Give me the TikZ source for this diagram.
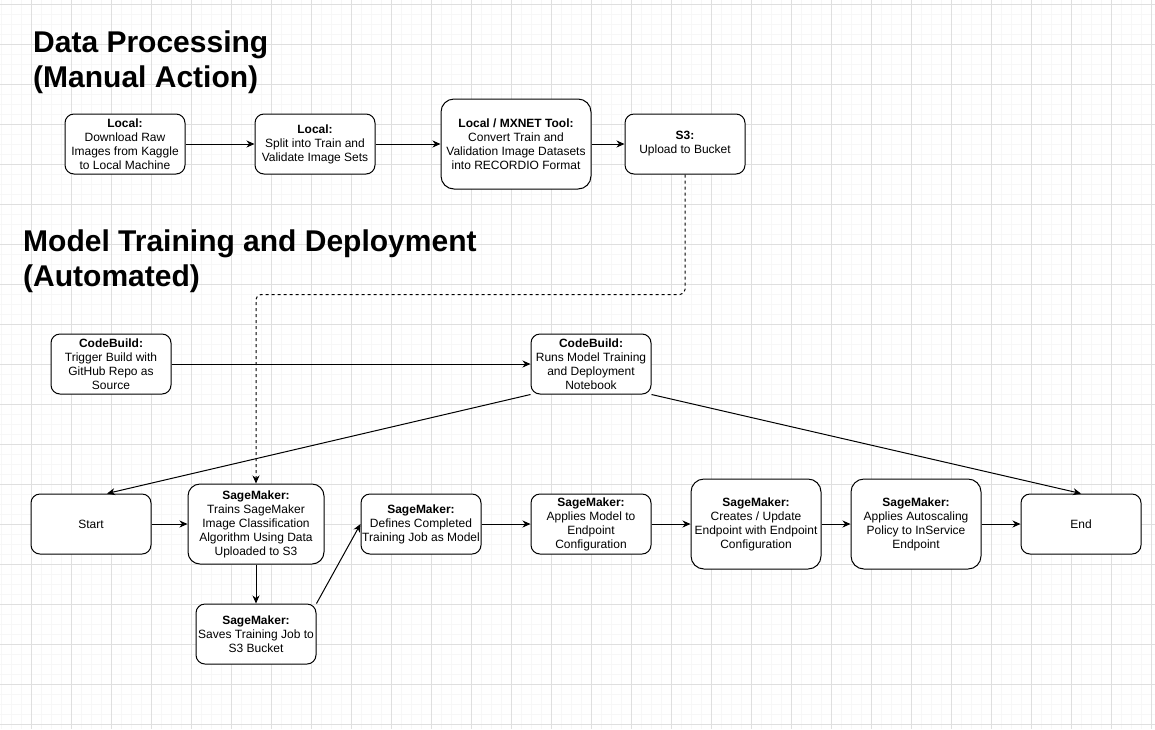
\documentclass[tikz,border=0pt]{standalone}
\usepackage{fontspec}
\setmainfont{Liberation Sans}
\usetikzlibrary{arrows.meta}
\tikzset{>={Stealth[length=8pt,width=7pt,inset=2.5pt]}}
\tikzset{
	box/.style={draw, fill=white, line width=1pt, rounded corners=9pt, align=center, inner sep=0pt,
		minimum width=120pt, minimum height=60pt, font=\fontsize{12}{14}\selectfont},
	bigbox/.style={box, rounded corners=13pt, minimum width=130pt, minimum height=90pt},
	heading/.style={anchor=base west, align=left, inner sep=0pt, font=\fontsize{30}{35}\selectfont\bfseries},
	link/.style={->, line width=1pt},
	minorline/.style={gray!6, line width=1pt},
	majorline/.style={gray!25, line width=1pt}
}

\begin{document}
\begin{tikzpicture}[x=1pt,y=-1pt]
	\useasboundingbox (0,0) rectangle (1155,729);
	% grid paper
	\foreach \x in {1.7,11.7,...,1155} \draw [minorline] (\x,0) -- (\x,729);
	\foreach \y in {4,14,...,729} \draw [minorline] (0,\y) -- (1155,\y);
	\foreach \x in {31.7,71.7,...,1155} \draw [majorline] (\x,0) -- (\x,729);
	\foreach \y in {4,44,...,729} \draw [majorline] (0,\y) -- (1155,\y);

	% base anchor sits on the last line
	\node [heading] (dp) at (33,87) {Data Processing\\(Manual Action)};
	\node [heading] (mt) at (23,286) {Model Training and Deployment\\(Automated)};

	% manual steps
	\node [box] (dl) at (125,144) {\textbf{Local:}\\Download Raw\\Images from Kaggle\\to Local Machine};
	\node [box] (split) at (315,144) {\textbf{Local:}\\Split into Train and\\Validate Image Sets};
	\node [bigbox, minimum width=150pt] (conv) at (516,144) {\textbf{Local / MXNET Tool:}\\Convert Train and\\Validation Image Datasets\\into RECORDIO Format};
	\node [box] (upload) at (685,144) {\textbf{S3:}\\Upload to Bucket};

	% automated steps
	\node [box] (trig) at (111,364) {\textbf{CodeBuild:}\\Trigger Build with\\GitHub Repo as\\Source};
	\node [box] (runs) at (591,364) {\textbf{CodeBuild:}\\Runs Model Training\\and Deployment\\Notebook};
	\node [box] (start) at (91,524) {Start};
	\node [box, rounded corners=12pt, minimum width=136pt, minimum height=80pt] (train) at (256,524) {\textbf{SageMaker:}\\Trains SageMaker\\Image Classification\\Algorithm Using Data\\Uploaded to S3};
	\node [box] (save) at (256,634) {\textbf{SageMaker:}\\Saves Training Job to\\S3 Bucket};
	\node [box] (define) at (421,524) {\textbf{SageMaker:}\\Defines Completed\\Training Job as Model};
	\node [box] (apply) at (591,524) {\textbf{SageMaker:}\\Applies Model to\\Endpoint\\Configuration};
	\node [bigbox] (create) at (756,524) {\textbf{SageMaker:}\\Creates / Update\\Endpoint with Endpoint\\Configuration};
	\node [bigbox] (scale) at (916,524) {\textbf{SageMaker:}\\Applies Autoscaling\\Policy to InService\\Endpoint};
	\node [box] (done) at (1081,524) {End};

	\draw [link] (dl) -- (split);
	\draw [link] (split) -- (conv);
	\draw [link] (conv) -- (upload);
	\draw [link, dash pattern=on 3pt off 3pt, rounded corners=5pt] (upload.south) -- ++(0,120) -| (train.north);
	\draw [link] (trig) -- (runs);
	\draw [link] (runs.south west) -- ([xshift=16pt]start.north);
	\draw [link] (runs.south east) -- (done.north);
	\draw [link] (start) -- (train);
	\draw [link] (train) -- (save);
	\draw [link] (save.north east) -- (define.west);
	\draw [link] (define) -- (apply);
	\draw [link] (apply) -- (create);
	\draw [link] (create) -- (scale);
	\draw [link] (scale) -- (done);
\end{tikzpicture}
\end{document}
